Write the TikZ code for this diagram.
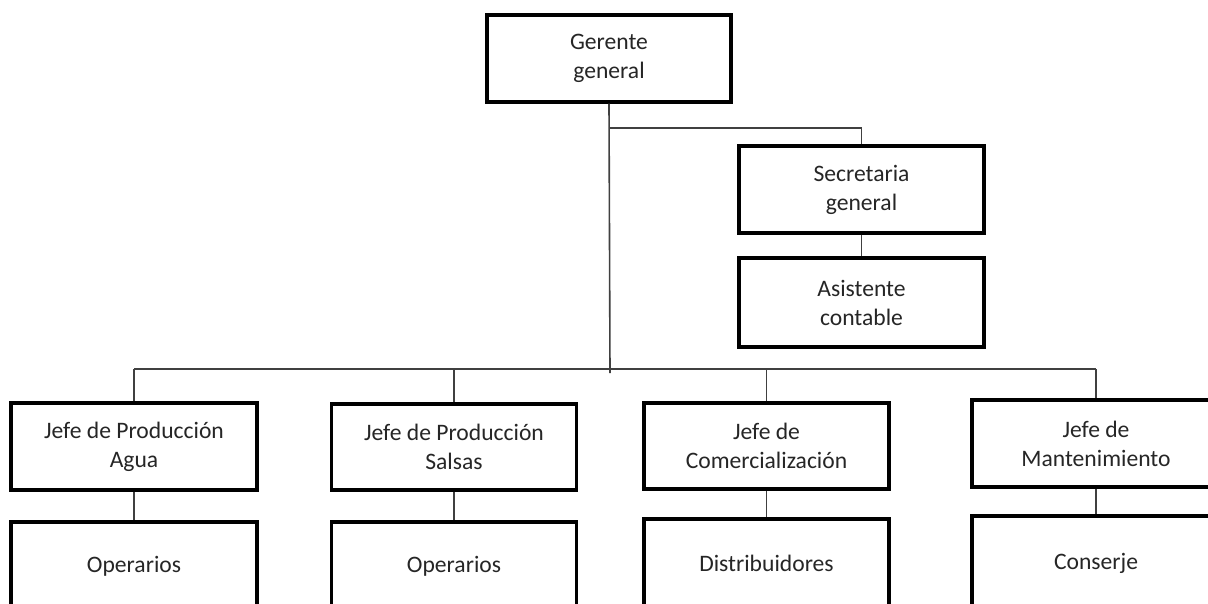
\documentclass[tikz,border=0pt]{standalone}
\usepackage{fontspec}
\setmainfont{Carlito}
\begin{document}
\begin{tikzpicture}[x=1pt,y=-1pt,
  box/.style={draw=black, line width=3.3pt, fill=white, align=center, inner sep=0pt,
    font=\fontsize{23.6}{29}\selectfont, text=black!85},
  conn/.style={draw=black!75, line width=1.6pt}]
\useasboundingbox (0,0) rectangle (1208,603);
\clip (0,0) rectangle (1208,603);
\fill[white] (0,0) rectangle (1208,603);
% top level
\node[box, minimum width=244pt, minimum height=87pt] (g) at (609,58.5) {Gerente\\general};
\node[box, minimum width=245pt, minimum height=87pt] (s) at (861.5,189.5) {Secretaria\\general};
\node[box, minimum width=245pt, minimum height=89pt] (a) at (861.5,302.5) {Asistente\\contable};
% row 1
\node[box, minimum width=246pt, minimum height=87pt] (j1) at (134,446.5) {Jefe de Producción\\Agua};
\node[box, minimum width=245pt, minimum height=86pt] (j2) at (454,447) {Jefe de Producción\\Salsas};
\node[box, minimum width=245pt, minimum height=86pt] (j3) at (766.5,446) {Jefe de\\Comercialización};
\node[box, minimum width=248pt, minimum height=87pt] (j4) at (1096,443.5) {Jefe de\\Mantenimiento};
% row 2
\node[box, minimum width=246pt, minimum height=88pt] (o1) at (134,566) {Operarios};
\node[box, minimum width=245pt, minimum height=88pt] (o2) at (454,566) {Operarios};
\node[box, minimum width=245pt, minimum height=88pt] (o3) at (766.5,563) {Distribuidores};
\node[box, minimum width=248pt, minimum height=94pt] (o4) at (1096,563) {Conserje};
% connector points
\coordinate (gEnd) at (610,373);
\coordinate (sJoin) at (610,128);
\coordinate (bus) at (0,369);
% connectors
\draw[conn] (g.south) -- (gEnd);
\draw[conn] (sJoin) -| (s.north);
\draw[conn] (s.south) -- (a.north);
\draw[conn] (j1.north |- bus) -- (j4.north |- bus);
\foreach \n in {j1,j2,j3,j4} {
  \draw[conn] (\n.north |- bus) -- (\n.north);
}
\draw[conn] (j1.south) -- (o1.north);
\draw[conn] (j2.south) -- (o2.north);
\draw[conn] (j3.south) -- (o3.north);
\draw[conn] (j4.south) -- (o4.north);
\end{tikzpicture}
\end{document}
